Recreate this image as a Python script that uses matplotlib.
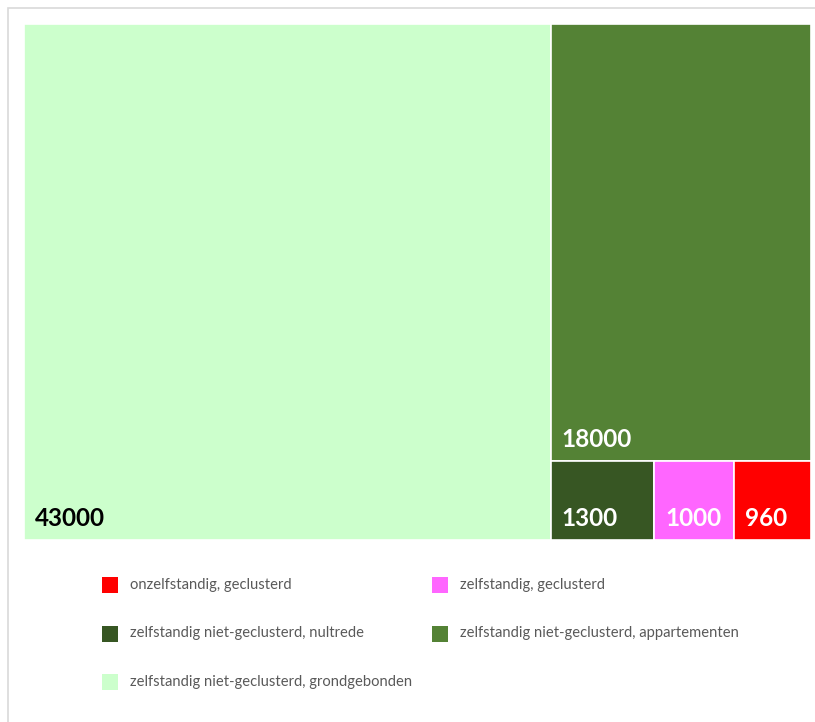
import matplotlib
matplotlib.use("Agg")
import matplotlib.pyplot as plt
from matplotlib.patches import Rectangle

# legend order (smallest first, as in the reference)
labels = [
    "onzelfstandig, geclusterd",
    "zelfstandig, geclusterd",
    "zelfstandig niet-geclusterd, nultrede",
    "zelfstandig niet-geclusterd, appartementen",
    "zelfstandig niet-geclusterd, grondgebonden",
]
values = [960, 1000, 1300, 18000, 43000]
colors = ["#FF0000", "#FF66FF", "#375623", "#548235", "#CCFFCC"]
text_colors = ["white", "white", "white", "white", "black"]

plt.rcParams["font.family"] = ["Lato", "DejaVu Sans"]

W_PX, H_PX = 815, 722
# treemap box in pixels
X0, Y0, TW, TH = 24, 24, 787, 516


def worst(row, w):
    s = sum(row)
    return max(max(w * w * r / (s * s), s * s / (w * w * r)) for r in row)


def squarify(vals, x, y, dx, dy):
    """Squarified treemap; vals already scaled to the area dx*dy."""
    rects = []
    vals = list(vals)
    while vals:
        w = min(dx, dy)
        row = [vals.pop(0)]
        while vals and worst(row + [vals[0]], w) <= worst(row, w):
            row.append(vals.pop(0))
        s = sum(row)
        if dx >= dy:  # column along the left edge
            cw = s / dy
            cy = y
            for r in row:
                h = r / cw
                rects.append((x, cy, cw, h))
                cy += h
            x += cw
            dx -= cw
        else:  # row along the top edge (y grows downward)
            rh = s / dx
            cx = x
            for r in row:
                w_ = r / rh
                rects.append((cx, y, w_, rh))
                cx += w_
            y += rh
            dy -= rh
    return rects


order = sorted(range(len(values)), key=lambda i: -values[i])
total = sum(values)
scaled = [values[i] * TW * TH / total for i in order]
rects = squarify(scaled, 0, 0, TW, TH)

fig = plt.figure(figsize=(W_PX / 100, H_PX / 100), dpi=100)

# light frame around the chart area
frame = Rectangle((8 / W_PX, -0.05), 1.1, 1 - 8 / H_PX + 0.05,
                  transform=fig.transFigure, fill=False,
                  edgecolor="#D9D9D9", lw=1.2)
fig.add_artist(frame)

ax = fig.add_axes([X0 / W_PX, 1 - (Y0 + TH) / H_PX, TW / W_PX, TH / H_PX])
ax.set_xlim(0, TW)
ax.set_ylim(TH, 0)
ax.axis("off")

for i, (x, y, w, h) in zip(order, rects):
    ax.add_patch(Rectangle((x, y), w, h, facecolor=colors[i],
                           edgecolor="white", lw=1.2))
    ax.text(x + 11, y + h - 14, f"{values[i]}", color=text_colors[i],
            fontsize=17.5, fontweight="bold", ha="left", va="baseline")

# legend, two columns filled row by row
for k, (lab, col) in enumerate(zip(labels, colors)):
    r, c = divmod(k, 2)
    cx = 102 + c * 330
    cy = 585 + r * 48.5
    fig.add_artist(Rectangle((cx / W_PX, 1 - (cy + 8) / H_PX), 16 / W_PX, 16 / H_PX,
                             transform=fig.transFigure, facecolor=col,
                             edgecolor="none"))
    fig.text((cx + 28) / W_PX, 1 - cy / H_PX, lab, color="#595959",
             fontsize=10.6, ha="left", va="center")

fig.savefig("out.png", dpi=100)
